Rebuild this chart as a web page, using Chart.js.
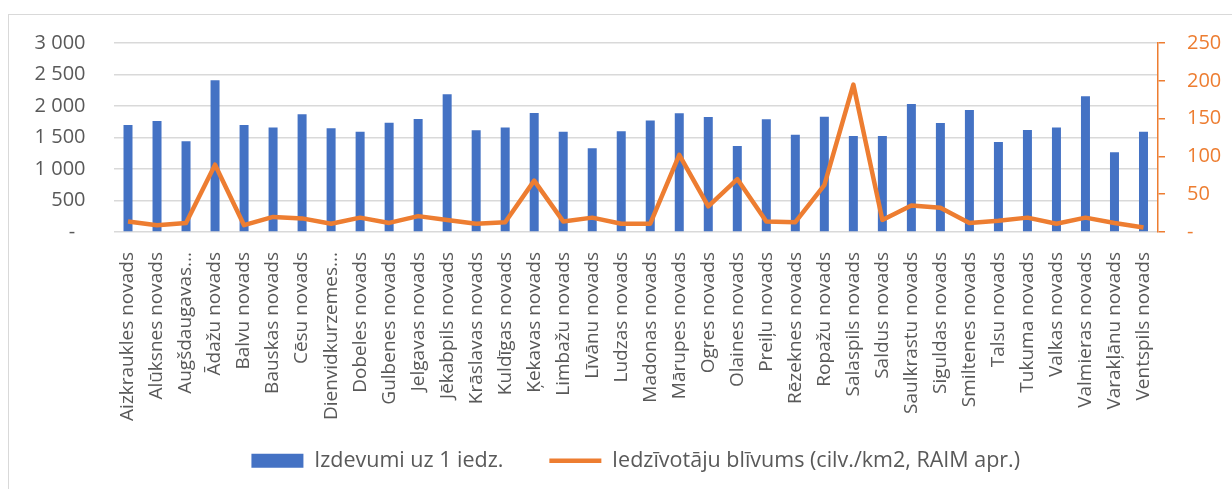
<!DOCTYPE html>
<html lang="lv">
<head>
<meta charset="utf-8">
<title>Izdevumi uz 1 iedzīvotāju un iedzīvotāju blīvums</title>
<script src="https://cdn.jsdelivr.net/npm/chart.js@4/dist/chart.umd.min.js"></script>
<style>
  html, body { margin: 0; padding: 0; background: #fff; }
  #wrap { position: relative; width: 1232px; height: 489px; overflow: hidden; }
  #frame { position: absolute; left: 8px; top: 14px; width: 1400px; height: 600px;
           border: 1.5px solid #d9d9d9; box-sizing: border-box; }
  #chart { position: absolute; left: 0; top: 0; }
</style>
</head>
<body>
<div id="wrap">
  <div id="frame"></div>
  <canvas id="chart" width="1232" height="489"></canvas>
</div>
<script>
// Novadi (x ass)
const categories = [
  'Aizkraukles novads', 'Alūksnes novads', 'Augšdaugavas novads', 'Ādažu novads',
  'Balvu novads', 'Bauskas novads', 'Cēsu novads', 'Dienvidkurzemes novads',
  'Dobeles novads', 'Gulbenes novads', 'Jelgavas novads', 'Jēkabpils novads',
  'Krāslavas novads', 'Kuldīgas novads', 'Ķekavas novads', 'Limbažu novads',
  'Līvānu novads', 'Ludzas novads', 'Madonas novads', 'Mārupes novads',
  'Ogres novads', 'Olaines novads', 'Preiļu novads', 'Rēzeknes novads',
  'Ropažu novads', 'Salaspils novads', 'Saldus novads', 'Saulkrastu novads',
  'Siguldas novads', 'Smiltenes novads', 'Talsu novads', 'Tukuma novads',
  'Valkas novads', 'Valmieras novads', 'Varakļānu novads', 'Ventspils novads'
];

// Izdevumi uz 1 iedz. (kreisā ass)
const spending = [
  1700, 1760, 1440, 2410, 1700, 1660, 1870, 1645, 1590, 1735, 1795, 2185,
  1615, 1660, 1890, 1590, 1330, 1600, 1770, 1885, 1825, 1365, 1790, 1545,
  1830, 1525, 1525, 2030, 1730, 1935, 1430, 1620, 1660, 2155, 1265, 1590
];

// Iedzīvotāju blīvums, cilv./km2 (labā ass)
const density = [
  14, 9, 12, 89, 9, 20, 18, 11, 19, 12, 21, 16,
  11, 13, 68, 14, 19, 11, 11, 102, 34, 70, 14, 13,
  62, 195, 16, 35, 32, 12, 15, 19, 11, 19, 12, 6
];

const leftTicks = [0, 500, 1000, 1500, 2000, 2500, 3000];
const rightTicks = [0, 50, 100, 150, 200, 250];

const BLUE = '#4472c4';
const ORANGE = '#ed7d31';
const TEXT = '#595959';
const GRID = '#d9d9d9';
const FONT = '"Open Sans", "Noto Sans", sans-serif';

function spaced(v) {
  return String(v).replace(/\B(?=(\d{3})+(?!\d))/g, ' ');
}

// Excel saīsina garos nosaukumus
function shortLabel(name) {
  return name.length > 18 ? name.split(' ')[0] + '...' : name;
}

new Chart(document.getElementById('chart'), {
  data: {
    labels: categories,
    datasets: [
      {
        type: 'bar',
        label: 'Izdevumi uz 1 iedz.',
        data: spending,
        backgroundColor: BLUE,
        borderWidth: 0,
        categoryPercentage: 1,
        barPercentage: 0.31,
        yAxisID: 'y',
        order: 2
      },
      {
        type: 'line',
        label: 'Iedzīvotāju blīvums (cilv./km2, RAIM apr.)',
        data: density,
        borderColor: ORANGE,
        backgroundColor: ORANGE,
        borderWidth: 4.5,
        pointRadius: 0,
        pointHoverRadius: 0,
        tension: 0,
        borderJoinStyle: 'round',
        yAxisID: 'y1',
        order: 1
      }
    ]
  },
  options: {
    responsive: false,
    animation: false,
    layout: { padding: { top: 43, left: 0, right: 0, bottom: 7.5 } },
    plugins: {
      tooltip: { enabled: false },
      legend: {
        position: 'bottom',
        fullSize: false,
        labels: {
          color: TEXT,
          font: { family: FONT, size: 21.5 },
          usePointStyle: true,
          pointStyleWidth: 52,
          boxHeight: 14,
          padding: 18,
          sort: (a, b) => a.datasetIndex - b.datasetIndex,
          generateLabels(chart) {
            const items = Chart.defaults.plugins.legend.labels.generateLabels(chart);
            items.forEach(it => {
              const isLine = chart.data.datasets[it.datasetIndex].type === 'line';
              it.pointStyle = isLine ? 'line' : 'rect';
              // wider gap between the two legend entries, as in the original
              if (!isLine) it.text += '     ';
            });
            return items;
          }
        }
      }
    },
    scales: {
      x: {
        grid: { display: false },
        border: { display: false },
        afterFit: s => { s.height = 200; },
        ticks: {
          autoSkip: false,
          maxRotation: 90,
          minRotation: 90,
          padding: 12,
          color: TEXT,
          font: { family: FONT, size: 19 },
          callback: function (v) { return shortLabel(this.getLabelForValue(v)); }
        }
      },
      y: {
        position: 'left',
        min: 0,
        max: 3000,
        afterFit: s => { s.width = 113.5; },
        afterBuildTicks: s => { s.ticks = leftTicks.map(v => ({ value: v })); },
        grid: { color: GRID, lineWidth: 1.5, drawTicks: false },
        border: { display: false },
        ticks: {
          padding: 28,
          color: TEXT,
          font: { family: FONT, size: 20 },
          callback: v => (v === 0 ? '-  ' : spaced(v))
        }
      },
      y1: {
        position: 'right',
        min: 0,
        max: 250,
        afterFit: s => { s.width = 74; },
        afterBuildTicks: s => { s.ticks = rightTicks.map(v => ({ value: v })); },
        grid: { drawOnChartArea: false, color: ORANGE, lineWidth: 1.5, tickLength: 7 },
        border: { display: true, color: ORANGE, width: 1.5 },
        ticks: {
          padding: 22,
          color: ORANGE,
          font: { family: FONT, size: 20 },
          callback: v => (v === 0 ? '-' : String(v))
        }
      }
    }
  }
});
</script>
</body>
</html>
